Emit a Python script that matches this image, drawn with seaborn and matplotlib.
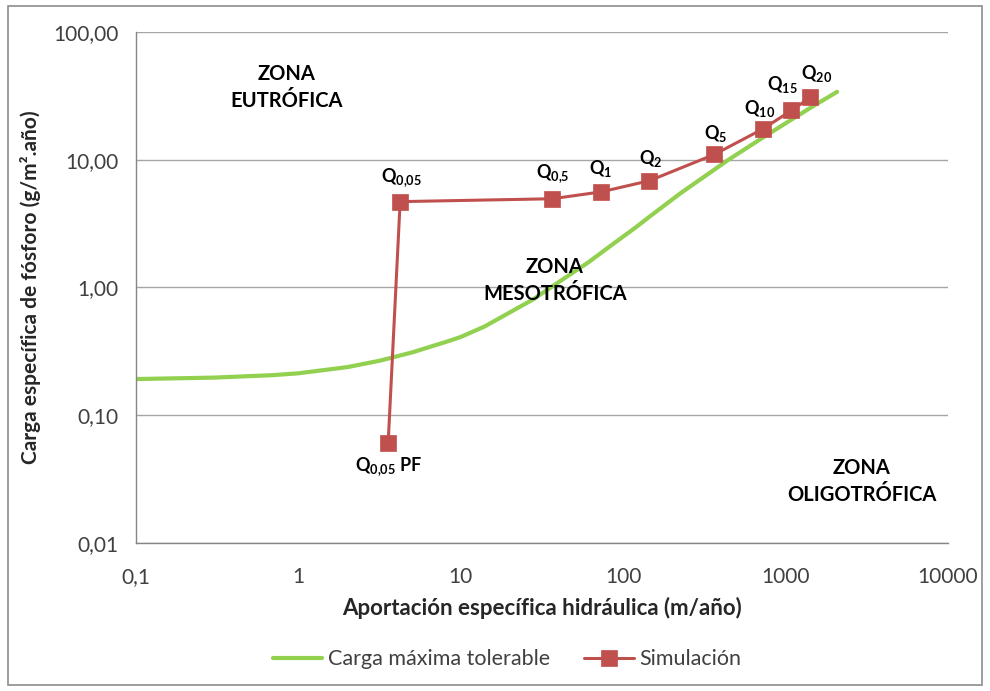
import matplotlib
matplotlib.use("Agg")
import matplotlib.pyplot as plt
import seaborn as sns
import pandas as pd
from matplotlib.patches import Rectangle
from matplotlib.ticker import FixedLocator, LogLocator, NullFormatter

# Critical load curve (Vollenweider-type boundary)
carga_x = [0.1, 0.3, 0.7, 1.0, 2.0, 3.2, 5.0, 8.2, 10, 14, 21, 28, 37, 50, 60, 87, 120, 150, 225,
           300, 445, 700, 1000, 1500, 2075]
carga_y = [0.192, 0.197, 0.206, 0.213, 0.238, 0.268, 0.31, 0.377, 0.41, 0.495, 0.66, 0.81, 1.03,
           1.33, 1.55, 2.2, 2.97, 3.7, 5.46, 7.05, 10.0, 14.5, 19.3, 26.6, 34.0]

# Simulated scenarios
sim_labels = [r"$\mathbf{Q_{0{,}05}}$" + " PF", r"$\mathbf{Q_{0{,}05}}$", r"$\mathbf{Q_{0{,}5}}$",
              r"$\mathbf{Q_{1}}$", r"$\mathbf{Q_{2}}$", r"$\mathbf{Q_{5}}$",
              r"$\mathbf{Q_{10}}$", r"$\mathbf{Q_{15}}$", r"$\mathbf{Q_{20}}$"]
sim_x = [3.57, 4.23, 36.6, 72.9, 145, 364, 723, 1086, 1422]
sim_y = [0.061, 4.7, 4.95, 5.6, 6.85, 11.0, 17.4, 24.3, 30.8]

x_ticks = [0.1, 1, 10, 100, 1000, 10000]
x_ticklabels = ["0,1", "1", "10", "100", "1000", "10000"]
y_ticks = [0.01, 0.1, 1, 10, 100]
y_ticklabels = ["0,01", "0,10", "1,00", "10,00", "100,00"]

zonas = ["ZONA\nEUTRÓFICA", "ZONA\nMESOTRÓFICA", "ZONA\nOLIGOTRÓFICA"]

sns.set_theme(style="white")
plt.rcParams["font.family"] = ["Lato", "DejaVu Sans"]
plt.rcParams["mathtext.fontset"] = "custom"
plt.rcParams["mathtext.rm"] = "Lato"
plt.rcParams["mathtext.bf"] = "Lato:bold"
plt.rcParams["mathtext.it"] = "Lato:italic"

GREEN = "#92D050"
RED = "#C0504D"
AXIS = "#868686"

fig = plt.figure(figsize=(9.9, 6.91), dpi=100)
ax = fig.add_axes([0.1374, 0.2142, 0.8202, 0.7395])

df_c = pd.DataFrame({"x": carga_x, "y": carga_y})
df_s = pd.DataFrame({"x": sim_x, "y": sim_y})

sns.lineplot(data=df_c, x="x", y="y", ax=ax, color=GREEN, linewidth=3.0,
             sort=False, estimator=None, label="Carga máxima tolerable")
sns.lineplot(data=df_s, x="x", y="y", ax=ax, color=RED, linewidth=2.2,
             marker="s", markersize=11.5, markeredgecolor=RED, markeredgewidth=0.5,
             sort=False, estimator=None, label="Simulación")

ax.set_xscale("log")
ax.set_yscale("log")
ax.set_xlim(0.1, 10000)
ax.set_ylim(0.01, 100)

ax.xaxis.set_major_locator(FixedLocator(x_ticks))
ax.set_xticklabels(x_ticklabels)
ax.yaxis.set_major_locator(FixedLocator(y_ticks))
ax.set_yticklabels(y_ticklabels)
for axis in (ax.xaxis, ax.yaxis):
    axis.set_minor_locator(LogLocator(base=10, subs=range(2, 10), numticks=20))
    axis.set_minor_formatter(NullFormatter())

ax.grid(False)
ax.yaxis.grid(True, which="major", color="#A6A6A6", linewidth=1.0)
ax.set_axisbelow(True)

for s in ("top", "right"):
    ax.spines[s].set_visible(False)
for s in ("left", "bottom"):
    ax.spines[s].set_color(AXIS)
    ax.spines[s].set_linewidth(1.0)

ax.tick_params(which="major", direction="inout", length=11, width=1.0, color=AXIS,
               labelsize=15, labelcolor="#404040", pad=7)
ax.tick_params(which="minor", direction="in", length=5, width=0.8, color=AXIS)
ax.tick_params(axis="x", which="major", pad=12)

ax.set_xlabel("Aportación específica hidráulica (m/año)", fontsize=16,
              fontweight="bold", labelpad=7)
ax.set_ylabel("Carga específica de fósforo (g/m².año)", fontsize=15,
              fontweight="bold", labelpad=9)

# Scenario labels
offsets = [(0, -24), (1, 24), (0, 25), (0, 23), (1, 22), (1, 21), (-3, 21), (-9, 26), (6, 24)]
for lab, x, y, off in zip(sim_labels, sim_x, sim_y, offsets):
    ax.annotate(lab, (x, y), xytext=off, textcoords="offset pixels",
                ha="center", va="center", fontsize=13, fontweight="bold", color="black")

# Trophic zones
zona_pos = [(0.186, 0.892), (0.516, 0.513), (0.894, 0.121)]
for txt, (px, py) in zip(zonas, zona_pos):
    ax.text(px, py, txt, transform=ax.transAxes, ha="center", va="center",
            fontsize=14.5, fontweight="bold", color="black", linespacing=1.45)

leg = ax.legend(loc="center", bbox_to_anchor=(0.512, 0.046), bbox_transform=fig.transFigure,
                ncol=2, frameon=False, fontsize=15.5, handlelength=2.3, columnspacing=1.6,
                handletextpad=0.25)
for t in leg.get_texts():
    t.set_color("#404040")

fig.patches.append(Rectangle((0.008, 0.008), 0.984, 0.984, transform=fig.transFigure,
                             fill=False, edgecolor="#8C8C8C", linewidth=1.2))

fig.savefig("out.png", dpi=100)
